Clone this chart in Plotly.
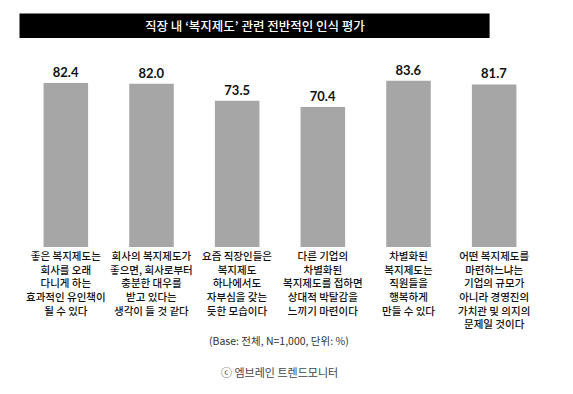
import plotly.graph_objects as go

title = "직장 내 ‘복지제도’ 관련 전반적인 인식 평가"
categories = [
    ["좋은 복지제도는", "회사를 오래", "다니게 하는", "효과적인 유인책이", "될 수 있다"],
    ["회사의 복지제도가", "좋으면, 회사로부터", "충분한 대우를", "받고 있다는", "생각이 들 것 같다"],
    ["요즘 직장인들은", "복지제도", "하나에서도", "자부심을 갖는", "듯한 모습이다"],
    ["다른 기업의", "차별화된", "복지제도를 접하면", "상대적 박탈감을", "느끼기 마련이다"],
    ["차별화된", "복지제도는", "직원들을", "행복하게", "만들 수 있다"],
    ["어떤 복지제도를", "마련하느냐는", "기업의 규모가", "아니라 경영진의", "가치관 및 의지의", "문제일 것이다"],
]
values = [82.4, 82.0, 73.5, 70.4, 83.6, 81.7]
note = "(Base: 전체, N=1,000, 단위: %)"
source = "ⓒ 엠브레인 트렌드모니터"

KR = "Noto Sans CJK KR"
xs = list(range(len(values)))

W, H = 573, 394
L, R = 22.5, 537.5
BASE, TOPV = 247, 48  # pixel rows of y=0 and y=100
PW, PH = R - L, BASE - TOPV


def px_x(x):
    return (x - L) / PW


def px_y(y):
    return (BASE - y) / PH


fig = go.Figure()
fig.add_trace(go.Bar(
    x=xs, y=values,
    marker=dict(color="#a6a6a6", line=dict(width=0)),
    width=0.52,
    text=[f"{v:.1f}" for v in values],
    textposition="outside",
    textfont=dict(family="Lato, " + KR, size=13, color="#111111", weight="bold"),
    cliponaxis=False,
    hoverinfo="skip",
))

fig.update_layout(
    width=W, height=H,
    margin=dict(l=L, r=W - R, t=TOPV, b=H - BASE),
    paper_bgcolor="white", plot_bgcolor="white",
    showlegend=False,
    xaxis=dict(range=[-0.5, len(values) - 0.5], showticklabels=False,
               showgrid=False, zeroline=False, showline=False, ticks=""),
    yaxis=dict(range=[0, 100], visible=False),
)

# title bar
fig.add_shape(type="rect", xref="paper", yref="paper",
              x0=px_x(19), x1=px_x(490), y0=px_y(38), y1=px_y(13.5),
              fillcolor="black", line=dict(width=0), layer="above")
fig.add_annotation(text=title, xref="paper", yref="paper",
                   x=px_x(254.5), y=px_y(26), xanchor="center", yanchor="middle",
                   showarrow=False,
                   font=dict(family=KR, size=12.5, color="white", weight=500))

for i, lines in enumerate(categories):
    fig.add_annotation(text="<br>".join(lines), x=i, xref="x", yref="paper",
                       y=px_y(247), yanchor="top", xanchor="center",
                       showarrow=False, align="center", borderpad=0,
                       font=dict(family=KR, size=10.5, color="#111111", weight=500))

fig.add_annotation(text=note, xref="paper", yref="paper",
                   x=px_x(279), y=px_y(340), xanchor="center", yanchor="middle",
                   showarrow=False, font=dict(family=KR, size=10.5, color="#333333"))
fig.add_annotation(text=source, xref="paper", yref="paper",
                   x=px_x(279), y=px_y(372), xanchor="center", yanchor="middle",
                   showarrow=False, font=dict(family=KR, size=11, color="#444444"))

fig.write_html("out.html", config={"displayModeBar": False},
               post_script="document.body.style.margin='0';")
